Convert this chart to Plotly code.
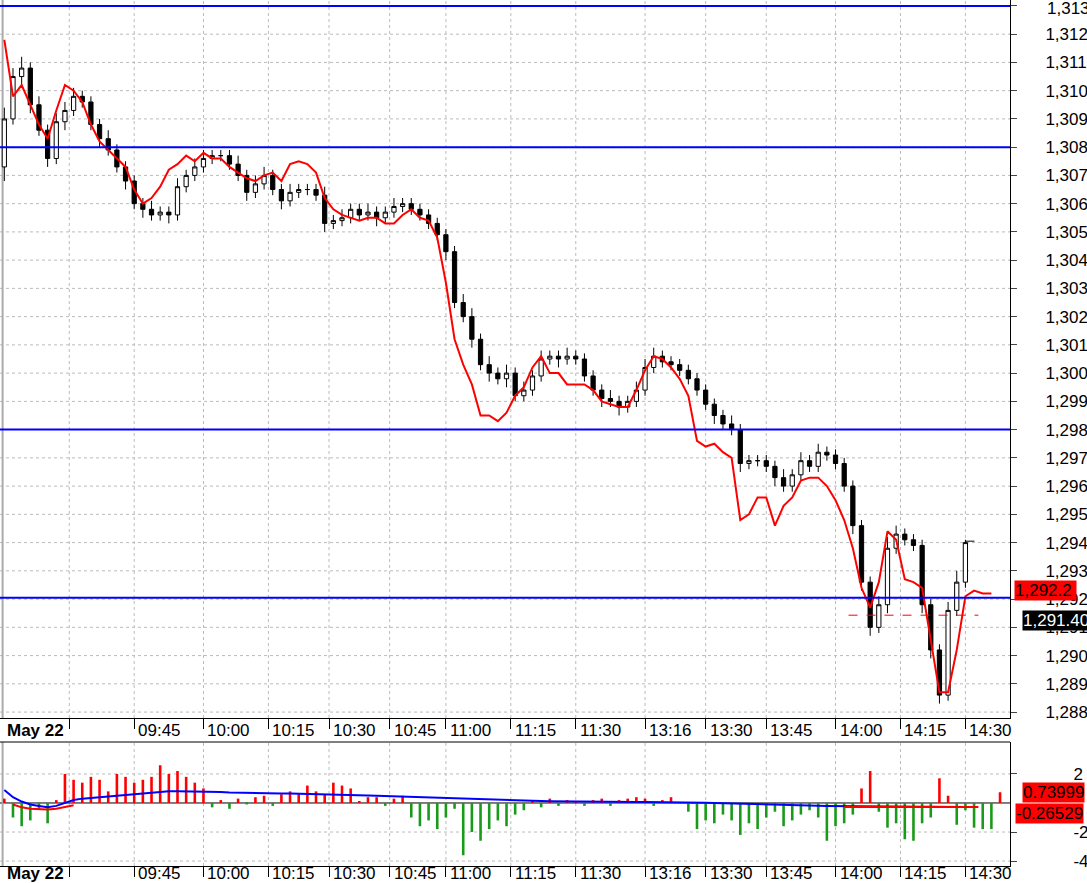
import plotly.graph_objects as go

# ---------- data ----------
close = [1309.0,1310.5,1310.8,1309.5,1308.6,1307.6,1308.9,1309.3,1309.8,1309.6,
         1308.8,1308.3,1307.9,1307.3,1306.8,1306.0,1305.8,1305.6,1305.7,1305.6,
         1306.6,1307.0,1307.3,1307.6,1307.7,1307.7,1307.4,1307.0,1306.4,1306.7,
         1307.0,1306.5,1306.1,1306.4,1306.5,1306.5,1306.3,1305.3,1305.4,1305.5,
         1305.8,1305.6,1305.7,1305.5,1305.7,1305.9,1306.0,1305.8,1305.6,1305.3,
         1304.9,1304.3,1302.5,1302.0,1301.2,1300.3,1300.0,1299.8,1300.0,1299.2,
         1299.4,1299.9,1300.5,1300.6,1300.5,1300.6,1300.5,1299.9,1299.4,1299.1,
         1299.0,1298.8,1299.0,1299.4,1300.2,1300.6,1300.4,1300.3,1300.1,1299.8,
         1299.4,1298.9,1298.5,1298.2,1298.0,1296.8,1296.9,1296.9,1296.7,1296.3,
         1296.0,1296.4,1296.9,1296.7,1297.2,1297.1,1296.8,1296.0,1294.6,1292.6,
         1291.0,1291.8,1293.8,1294.3,1294.1,1293.9,1291.8,1290.2,1288.6,1291.6,
         1292.6,1294.0]
first_open = 1307.3
wick_up = [0.4,0.3,0.4,0.2,0.3,0.2,0.3,0.3,0.3,0.2,0.2,0.2,0.3,0.2,0.2,0.2,0.2,0.3,0.2,0.2,
           0.3,0.2,0.3,0.3,0.2,0.2,0.2,0.3,0.2,0.3,0.3,0.2,0.2,0.3,0.2,0.2,0.2,0.3,0.2,0.3,
           0.2,0.2,0.3,0.2,0.2,0.3,0.2,0.2,0.2,0.2,0.2,0.2,0.2,0.3,0.3,0.2,0.3,0.2,0.3,0.2,
           0.3,0.2,0.3,0.2,0.2,0.3,0.2,0.2,0.2,0.2,0.3,0.2,0.2,0.3,0.3,0.3,0.2,0.2,0.2,0.2,
           0.2,0.2,0.2,0.2,0.3,0.2,0.2,0.2,0.2,0.2,0.3,0.2,0.3,0.2,0.3,0.2,0.2,0.2,0.2,0.2,
           0.2,0.3,0.4,0.3,0.2,0.2,0.2,0.2,0.2,0.3,0.4,0.1]
wick_dn = [0.5,0.2,0.3,0.3,0.2,0.3,0.2,0.3,0.2,0.2,0.2,0.3,0.2,0.2,0.3,0.2,0.3,0.2,0.2,0.3,
           0.2,0.2,0.2,0.2,0.2,0.2,0.2,0.2,0.3,0.2,0.2,0.2,0.3,0.2,0.2,0.2,0.2,0.3,0.2,0.2,
           0.2,0.2,0.2,0.3,0.2,0.2,0.2,0.2,0.2,0.2,0.2,0.3,0.2,0.2,0.3,0.2,0.3,0.2,0.3,0.2,
           0.2,0.2,0.2,0.2,0.3,0.2,0.2,0.2,0.2,0.3,0.2,0.3,0.2,0.2,0.2,0.2,0.2,0.2,0.2,0.2,
           0.2,0.2,0.3,0.2,0.2,0.3,0.2,0.2,0.2,0.3,0.2,0.2,0.2,0.2,0.2,0.2,0.2,0.2,0.3,0.3,
           0.3,0.2,0.3,0.2,0.2,0.2,0.3,0.3,0.3,0.2,0.2,0.2]
red_line = [1311.8,1309.8,1310.2,1309.5,1308.8,1308.3,1309.3,1310.2,1310.0,1309.6,
            1308.8,1308.2,1307.9,1307.6,1307.3,1306.5,1306.0,1306.2,1306.6,1307.2,
            1307.4,1307.7,1307.5,1307.8,1307.6,1307.6,1307.3,1307.1,1306.9,1306.8,
            1307.0,1307.1,1306.8,1307.4,1307.5,1307.4,1307.1,1306.2,1305.8,1305.6,
            1305.5,1305.4,1305.5,1305.5,1305.3,1305.3,1305.6,1305.8,1305.5,1305.4,
            1304.8,1303.2,1301.2,1300.3,1299.6,1298.5,1298.5,1298.3,1298.6,1299.2,
            1299.5,1300.2,1300.6,1300.0,1300.0,1299.6,1299.6,1299.6,1299.4,1299.0,
            1298.9,1298.8,1298.8,1299.4,1300.1,1300.6,1300.5,1300.2,1299.8,1299.2,
            1297.6,1297.4,1297.5,1297.2,1297.0,1294.8,1295.0,1295.6,1295.6,1294.6,
            1295.3,1295.6,1296.2,1296.3,1296.3,1296.0,1295.5,1294.8,1293.8,1292.4,
            1291.7,1292.6,1294.4,1294.1,1292.7,1292.6,1292.4,1290.5,1288.7,1288.7,
            1290.2,1292.1,1292.3,1292.2,1292.2]
hist = [0.3,-1.0,-1.6,-1.2,-0.4,-1.4,0.2,2.0,1.6,1.4,1.8,1.6,0.8,2.0,1.8,1.4,1.6,1.8,2.6,2.0,
        2.2,1.8,1.4,1.0,-0.3,0.2,-0.4,0.3,-0.1,0.4,0.5,-0.2,0.6,0.8,0.6,1.2,0.8,0.6,1.4,1.2,
        1.0,0.1,0.4,0.4,-0.2,0.3,0.5,-1.0,-1.6,-1.2,-1.8,-1.0,-0.4,-3.6,-2.0,-2.6,-1.8,-1.2,-1.6,-0.8,
        -0.5,0.2,-0.3,0.3,-0.2,0.2,0.1,-0.2,0.2,0.3,-0.2,0.2,0.3,0.4,0.3,-0.2,0.2,0.4,0.0,-0.6,
        -1.8,-1.2,-1.4,-0.8,-1.2,-2.2,-1.4,-1.8,-1.0,-0.6,-1.6,-1.2,-0.8,-0.5,-1.0,-2.6,-1.6,-1.4,-0.8,1.0,
        2.2,-0.6,-1.7,-1.4,-2.5,-2.6,-1.4,-1.0,1.7,0.5,-1.5,-0.5,-1.7,-1.8,-1.8,0.74]
signal = [0.9,0.4,0.1,-0.1,-0.2,-0.3,-0.2,0.0,0.2,0.3,0.35,0.4,0.45,0.5,0.55,0.6,0.65,0.7,0.75,0.8,
          0.8,0.8,0.8,0.78,0.75,0.75,0.72,0.7,0.7,0.68,0.66,0.65,0.65,0.65,0.64,0.63,0.62,0.6,0.6,0.58,
          0.56,0.54,0.52,0.5,0.48,0.46,0.45,0.42,0.4,0.38,0.36,0.33,0.3,0.27,0.25,0.22,0.2,0.18,0.17,0.16,
          0.15,0.14,0.13,0.12,0.12,0.11,0.1,0.1,0.09,0.09,0.08,0.08,0.07,0.07,0.06,0.06,0.05,0.05,0.04,0.03,
          0.02,0.01,0.0,-0.02,-0.04,-0.06,-0.08,-0.1,-0.12,-0.14,-0.15,-0.16,-0.17,-0.18,-0.19,-0.2,-0.21,-0.22,-0.23,-0.23,
          -0.24,-0.24,-0.25,-0.25,-0.25,-0.26,-0.26,-0.26,-0.26,-0.27,-0.27,-0.27]
sig_red = [None,-0.1,-0.3,-0.4,-0.45,-0.45,-0.4,-0.3,-0.15]
h_levels = [1313.0, 1308.0, 1298.0, 1292.05]
last_price = 1291.43
tick_slots = [16, 31, 47, 62, 76, 90, 103, 118, 133, 149, 163, 177, 193, 208, 223]
tick_text = ["", "09:45", "10:00", "10:15", "10:30", "10:45", "11:00", "11:15", "11:30",
             "13:16", "13:30", "13:45", "14:00", "14:15", "14:30"]

# ---------- build ----------
n = len(close)
xs = [1 + 2 * k for k in range(n)]
opens = [first_open] + close[:-1]
highs = [max(o, c) + w for o, c, w in zip(opens, close, wick_up)]
lows = [min(o, c) - w for o, c, w in zip(opens, close, wick_dn)]

fig = go.Figure()
fig.add_trace(go.Scatter(x=[1 + 2 * k for k in range(len(red_line))], y=red_line, mode="lines",
                         line=dict(color="#ff0000", width=2), xaxis="x", yaxis="y", hoverinfo="skip"))
fig.add_trace(go.Candlestick(x=xs, open=opens, high=highs, low=lows, close=close,
                             increasing=dict(line=dict(color="black", width=1), fillcolor="white"),
                             decreasing=dict(line=dict(color="black", width=1), fillcolor="black"),
                             whiskerwidth=0, xaxis="x", yaxis="y"))
fig.add_trace(go.Scatter(x=[xs[-1], xs[-1] + 4], y=[1294.05, 1294.05], mode="lines",
                         line=dict(color="black", width=1, dash="dash"), xaxis="x", yaxis="y"))

hx = [1 + 2 * k for k in range(len(hist))]
fig.add_trace(go.Bar(x=hx, y=hist, width=0.6,
                     marker=dict(color=["#ff0000" if v >= 0 else "#1a9a1a" for v in hist], line=dict(width=0)),
                     xaxis="x2", yaxis="y2"))
fig.add_trace(go.Scatter(x=[1 + 2 * k for k in range(len(signal))], y=signal, mode="lines",
                         line=dict(color="#0000ff", width=2), xaxis="x2", yaxis="y2"))
fig.add_trace(go.Scatter(x=[1 + 2 * k for k in range(len(sig_red))], y=sig_red, mode="lines",
                         line=dict(color="#ff0000", width=2), xaxis="x2", yaxis="y2"))
fig.add_trace(go.Scatter(x=[195, 226], y=[-0.27, -0.27], mode="lines",
                         line=dict(color="#ff0000", width=2), xaxis="x2", yaxis="y2"))

XR = [0, 233.3]
ax_common = dict(range=XR, showgrid=False, zeroline=False, tickvals=tick_slots, ticktext=[""] * len(tick_slots),
                 ticks="outside", ticklen=10, tickcolor="black", showline=True, linecolor="black", linewidth=1,
                 rangeslider=dict(visible=False), fixedrange=True, automargin=False)
yfont = dict(family="Liberation Sans, Arial", size=17, color="black")
fig.update_layout(
    width=1087, height=883, margin=dict(l=0, r=77, t=0, b=0, autoexpand=False),
    paper_bgcolor="white", plot_bgcolor="white", showlegend=False,
    font=dict(family="Liberation Sans, Arial", size=17, color="black"),
    xaxis=dict(domain=[0, 1], anchor="y", **ax_common),
    xaxis2=dict(domain=[0, 1], anchor="y2", **ax_common),
    yaxis=dict(domain=[1 - 718 / 883, 1], range=[1287.79, 1313.21], side="right",
               tickvals=list(range(1288, 1314)), ticktext=[f"{v:,}" for v in range(1288, 1314)],
               ticks="outside", ticklen=6, showline=True, linecolor="black", tickfont=yfont,
               ticklabelstandoff=25, automargin=False,
               showgrid=False, zeroline=False, fixedrange=True),
    yaxis2=dict(domain=[17 / 883, 141 / 883], range=[-4.34, 4.2], side="right",
                tickvals=[-4, -2, 2], ticktext=["-4", "-2", "2"], tickfont=yfont,
                ticks="outside", ticklen=6, showline=True, linecolor="black",
                ticklabelstandoff=53, automargin=False,
                showgrid=False, zeroline=False, fixedrange=True),
)

shapes = []
for s in tick_slots:
    for ya in ("y", "y2"):
        shapes.append(dict(type="line", xref="x", yref=ya + " domain", x0=s, x1=s, y0=0, y1=1,
                           line=dict(color="#bbbbbb", width=1, dash="dot"), layer="below"))
for v in range(1288, 1314):
    shapes.append(dict(type="line", xref="paper", yref="y", x0=0, x1=1, y0=v, y1=v,
                       line=dict(color="#bbbbbb", width=1, dash="dot"), layer="below"))
for v in (-4, -2, 2):
    shapes.append(dict(type="line", xref="paper", yref="y2", x0=0, x1=1, y0=v, y1=v,
                       line=dict(color="#bbbbbb", width=1, dash="dot"), layer="below"))
shapes.append(dict(type="line", xref="paper", yref="y2", x0=0, x1=1, y0=0, y1=0,
                   line=dict(color="black", width=1), layer="below"))
for ya in ("y", "y2"):
    shapes.append(dict(type="line", xref="x", yref=ya + " domain", x0=0.6, x1=0.6, y0=0, y1=1,
                       line=dict(color="#aaaaaa", width=2), layer="below"))
shapes.append(dict(type="line", xref="paper", yref="y2 domain", x0=0, x1=1, y0=1, y1=1,
                   line=dict(color="black", width=1)))
for lv in h_levels:
    shapes.append(dict(type="line", xref="paper", yref="y", x0=0, x1=1, y0=lv, y1=lv,
                       line=dict(color="#0000ff", width=2)))
shapes.append(dict(type="line", xref="x", yref="y", x0=196, x1=226, y0=last_price, y1=last_price,
                   line=dict(color="#ff0000", width=1, dash="dash")))
fig.update_layout(shapes=shapes)

ann = []
for yy in (730, 873):
    ann.append(dict(xref="paper", yref="paper", x=0.005, y=1 - yy / 883, text="<b>May 22</b>", showarrow=False,
                    xanchor="left", yanchor="middle", font=dict(size=17)))
for s, t in zip(tick_slots, tick_text):
    if t:
        for yy in (730, 873):
            ann.append(dict(xref="x", yref="paper", x=s, y=1 - yy / 883, text=t, showarrow=False,
                            xanchor="left", yanchor="middle", xshift=2, font=dict(size=17)))
ann.append(dict(xref="paper", yref="paper", x=1.0, y=1 - 8 / 883, xshift=35, text="1,313", showarrow=False,
                xanchor="left", yanchor="middle", font=dict(size=17)))
ann.append(dict(xref="paper", yref="y", x=1.004, y=1292.3, text="1,292.2 ", showarrow=False, xanchor="left",
                bgcolor="#ff0000", font=dict(size=17, color="black"), borderpad=0))
ann.append(dict(xref="paper", yref="y", x=1.012, y=last_price - 0.2, text="1,291.40", showarrow=False,
                xanchor="left", bgcolor="black", font=dict(size=17, color="white"), borderpad=0))
ann.append(dict(xref="paper", yref="y2", x=1.012, y=0.74, text="0.73999", showarrow=False, xanchor="left",
                bgcolor="#ff0000", font=dict(size=17, color="black"), borderpad=0))
ann.append(dict(xref="paper", yref="y2", x=1.005, y=-0.75, text="-0.26529", showarrow=False, xanchor="left",
                bgcolor="#ff0000", font=dict(size=17, color="black"), borderpad=0))
fig.update_layout(annotations=ann)

fig.write_html("out.html", config={"displayModeBar": False},
               post_script="document.body.style.margin='0';document.body.style.overflow='hidden';")
